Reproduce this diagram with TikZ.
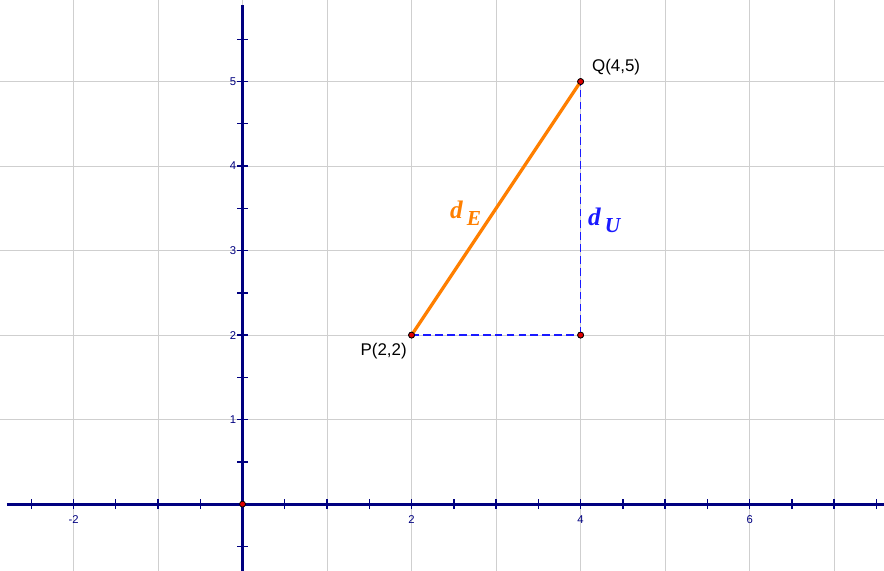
\documentclass[tikz,border=0pt]{standalone}
\usepackage{fontspec}
\setmainfont{Liberation Sans}
\newfontfamily\serifit{Liberation Serif}
\usetikzlibrary{positioning}
\definecolor{ax}{HTML}{000080}
\definecolor{grd}{HTML}{CFCFCF}
\definecolor{seg}{HTML}{FF7F00}
\definecolor{dsh}{HTML}{1A1AFF}
\definecolor{pnt}{HTML}{E00000}

\begin{document}
\begin{tikzpicture}[x=1cm,y=1cm,
   axis/.style={draw=ax,line width=1.05pt},
   tk/.style={draw=ax,line width=0.45pt},
   pt/.style={circle,fill=pnt,draw=black,line width=0.25pt,inner sep=0pt,minimum size=2pt},
   lbl/.style={font=\fontsize{5.7}{6}\selectfont,inner sep=0pt},
   num/.style={font=\fontsize{3.8}{4}\selectfont,text=ax,inner sep=0pt},
   dl/.style={font=\serifit\bfseries\itshape\fontsize{8.5}{9}\selectfont,inner sep=0pt}]
  \useasboundingbox (-2.87,-0.79) rectangle (7.59,5.965);
  % grid
  \foreach \x in {-2,...,7} \draw[grd,line width=0.35pt] (\x,-0.79) -- (\x,5.965);
  \foreach \y in {1,...,5} \draw[grd,line width=0.35pt] (-2.87,\y) -- (7.59,\y);
  % axes
  \draw[axis] (-2.79,0) -- (7.59,0);
  \draw[axis] (0,-0.79) -- (0,5.9);
  \foreach \x in {-2.5,-2,...,7.5} \draw[tk] (\x,-0.06) -- (\x,0.06);
  \foreach \y in {-0.5,0.5,1,...,5.5} \draw[tk] (-0.06,\y) -- (0.06,\y);
  \foreach \x in {-2,2,4,6} \node[num,below=0.13 of {(\x,0)}] {\x};
  \foreach \y in {1,...,5} \node[num,left=0.07 of {(0,\y)}] {\y};
  % triangle
  \node[pt] (O) at (0,0) {};
  \node[pt] (P) at (2,2) {};
  \node[pt] (Q) at (4,5) {};
  \node[pt] (R) at (4,2) {};
  \draw[dsh,line width=0.4pt,dash pattern=on 2.6pt off 1.4pt] (P.center) -- (R.center);
  \draw[dsh,line width=0.4pt,dash pattern=on 2.6pt off 1.4pt] (R.center) -- (Q.center);
  \draw[seg,line width=1.1pt] (P.center) -- (Q.center);
  \node[pt] at (P) {};
  \node[pt] at (Q) {};
  \node[pt] at (R) {};
  \node[lbl] (Qt) at (4.42,5.17) {Q(4,5)};
  \node[lbl] (Pt) at (1.67,1.81) {P(2,2)};
  \node[dl,text=seg] (dE) at (2.64,3.44) {d\,\raisebox{-0.6ex}{\fontsize{7.2}{8}\selectfont E}};
  \node[dl,text=dsh] (dU) at (4.28,3.36) {d\,\raisebox{-0.6ex}{\fontsize{7.2}{8}\selectfont U}};
\end{tikzpicture}
\end{document}
